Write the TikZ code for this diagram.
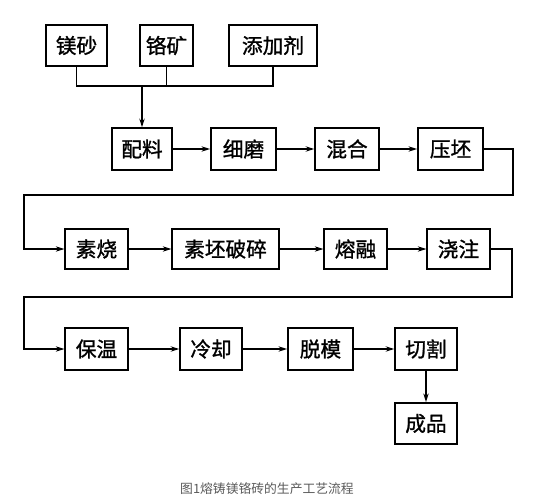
\documentclass[tikz,border=0pt]{standalone}
\usepackage{fontspec}
\newfontfamily\cjk{Noto Sans CJK SC}
\newfontfamily\cjkb[FakeBold=1.2]{Noto Sans CJK SC}
\usetikzlibrary{arrows.meta}
\definecolor{capgray}{RGB}{90,90,90}
\tikzset{
  box/.style={draw, line width=1.1pt, inner sep=0pt, minimum height=31pt, font=\cjkb\fontsize{15.5}{16}\selectfont},
  conn/.style={line width=0.9pt},
  arr/.style={conn, -{Stealth[length=6.5pt,width=4pt]}},
}
\begin{document}
\begin{tikzpicture}[x=0.75pt,y=-0.75pt]
\useasboundingbox (0,0) rectangle (547,500);
% row 0
\node[box, minimum width=46pt] (ms) at (76.5,45.5) {镁砂};
\node[box, minimum width=40pt] (gk) at (166.5,45.5) {铬矿};
\node[box, minimum width=66pt] (tj) at (273,45.5) {添加剂};
% row 1
\node[box, minimum width=45pt, minimum height=31.5pt] (pl) at (142,149) {配料};
\node[box, minimum width=49pt, minimum height=31.5pt] (xm) at (243.5,149) {细磨};
\node[box, minimum width=48pt, minimum height=31.5pt] (hh) at (347,149) {混合};
\node[box, minimum width=49pt, minimum height=31.5pt] (yp) at (450.5,149) {压坯};
% row 2
\node[box, minimum width=47pt, minimum height=30pt] (ss) at (96.5,249) {素烧};
\node[box, minimum width=80pt, minimum height=30pt] (sp) at (225.5,249) {素坯破碎};
\node[box, minimum width=47pt, minimum height=30pt] (rr) at (355.5,249) {熔融};
\node[box, minimum width=47pt, minimum height=30pt] (jz) at (458.5,249) {浇注};
% row 3
\node[box, minimum width=47pt, minimum height=31.5pt] (bw) at (96.5,349) {保温};
\node[box, minimum width=46.5pt, minimum height=31.5pt] (lq) at (211,349) {冷却};
\node[box, minimum width=49pt, minimum height=31.5pt] (tm) at (320.5,349) {脱模};
\node[box, minimum width=46.5pt, minimum height=31.5pt] (qg) at (426,349) {切割};
\node[box, minimum width=46.5pt, minimum height=31pt] (cp) at (426,423.5) {成品};
% caption
\node[font=\cjk\fontsize{9.6}{11}\selectfont, text=capgray] (cap) at (267,489) {图1熔铸镁铬砖的生产工艺流程};
% coordinates
\coordinate (j) at (142,86);
\coordinate (r1) at (513,195);
\coordinate (l1) at (24,195);
\coordinate (r2) at (512,297);
\coordinate (l2) at (24,297);
% connectors
\draw[conn] (ms.south) -- (ms.south |- j) -- (tj.south |- j) -- (tj.south);
\draw[conn] (gk.south) -- (gk.south |- j);
\draw[arr] (j) -- (pl.north);
\draw[arr] (pl) -- (xm);
\draw[arr] (xm) -- (hh);
\draw[arr] (hh) -- (yp);
\draw[arr] (yp.east) -| (r1) -- (l1) |- (ss.west);
\draw[arr] (ss) -- (sp);
\draw[arr] (sp) -- (rr);
\draw[arr] (rr) -- (jz);
\draw[arr] (jz.east) -| (r2) -- (l2) |- (bw.west);
\draw[arr] (bw) -- (lq);
\draw[arr] (lq) -- (tm);
\draw[arr] (tm) -- (qg);
\draw[arr] (qg) -- (cp);
\end{tikzpicture}
\end{document}
